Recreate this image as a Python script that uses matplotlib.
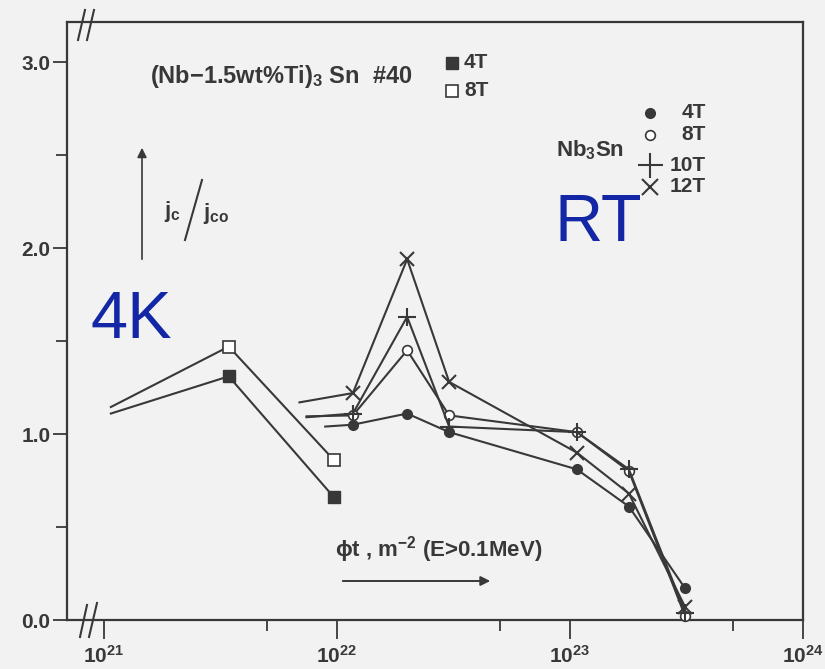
import numpy as np
import matplotlib.pyplot as plt
from matplotlib.lines import Line2D
from matplotlib.ticker import FixedLocator, NullFormatter

plt.rcParams['font.family'] = ['Liberation Sans', 'DejaVu Sans']
plt.rcParams['font.weight'] = 'bold'
plt.rcParams['mathtext.fontset'] = 'custom'
plt.rcParams['mathtext.rm'] = 'Liberation Sans:bold'
plt.rcParams['mathtext.it'] = 'Liberation Sans:bold'
plt.rcParams['mathtext.bf'] = 'Liberation Sans:bold'
plt.rcParams['mathtext.default'] = 'rm'

INK = '#383838'
BG = '#f2f2f2'
BLUE = '#1226a6'
FS = 15

# (Nb-1.5wt%Ti)3Sn #40, 4 K irradiation (first point is line start only)
x_nbti = [1.07e21, 3.43e21, 9.7e21]
nbti_4T = [1.11, 1.31, 0.66]
nbti_8T = [1.145, 1.47, 0.86]

# Nb3Sn, room-temperature irradiation (first point is line start only)
x_rt = [1.17e22, 2.0e22, 3.03e22, 1.07e23, 1.79e23, 3.12e23]
x0_rt = {'4T': 8.9e21, '8T': 7.4e21, '10T': 7.4e21, '12T': 6.9e21}
rt_4T = [1.04, 1.05, 1.11, 1.01, 0.81, 0.61, 0.17]
rt_8T = [1.095, 1.10, 1.45, 1.10, 1.01, 0.80, 0.02]
rt_10T = [1.09, 1.11, 1.63, 1.04, 1.01, 0.81, 0.04]
rt_12T = [1.17, 1.22, 1.94, 1.28, 0.90, 0.68, 0.07]

W, H = 825, 669
fig = plt.figure(figsize=(W / 100, H / 100), dpi=100, facecolor=BG)
ax = fig.add_axes([67 / W, 1 - 620 / H, (803 - 67) / W, (620 - 22) / H])
ax.set_facecolor(BG)


def px(x, y):
    return x / W, 1 - y / H


lw = 1.5
ax.plot(x_nbti, nbti_4T, color=INK, lw=lw, marker='s', ms=8, mfc=INK, mec=INK,
        markevery=[1, 2], zorder=3)
ax.plot(x_nbti, nbti_8T, color=INK, lw=lw, marker='s', ms=8, mfc='white', mec=INK,
        mew=1.2, markevery=[1, 2], zorder=3)

series = [('4T', rt_4T, dict(marker='o', ms=7, mfc=INK, mec=INK)),
          ('8T', rt_8T, dict(marker='o', ms=7, mfc='white', mec=INK, mew=1.2)),
          ('10T', rt_10T, dict(marker='+', ms=13, mec=INK, mew=1.5)),
          ('12T', rt_12T, dict(marker='x', ms=10, mec=INK, mew=1.5))]
for key, vals, mk in series:
    xs = [x0_rt[key]] + x_rt
    ax.plot(xs, vals, color=INK, lw=lw, markevery=list(range(1, len(xs))),
            zorder=4, clip_on=False, **mk)

ax.set_xscale('log')
ax.set_xlim(10 ** (21 - 37 / 233), 1e24)
ax.set_ylim(0, 3.0 + 40 / 186)

ax.xaxis.set_major_locator(FixedLocator([1e21, 1e22, 1e23, 1e24]))
ax.xaxis.set_minor_locator(FixedLocator([5e21, 5e22, 5e23]))
ax.xaxis.set_minor_formatter(NullFormatter())
ax.set_xticklabels([r'10$^{21}$', r'10$^{22}$', r'10$^{23}$', r'10$^{24}$'])
ax.set_yticks([0, 1, 2, 3])
ax.set_yticklabels(['0.0', '1.0', '2.0', '3.0'])
ax.set_yticks([0.5, 1.5, 2.5], minor=True)

ax.tick_params(axis='both', which='major', direction='out', color=INK, width=1.3,
               labelsize=FS, labelcolor=INK)
ax.tick_params(axis='x', which='major', length=14, pad=4)
ax.tick_params(axis='x', which='minor', direction='out', length=8, width=1.3, color=INK)
ax.tick_params(axis='y', which='major', length=10, pad=2)
ax.tick_params(axis='y', which='minor', direction='out', length=8, width=1.3, color=INK)
for s in ax.spines.values():
    s.set_color(INK)
    s.set_linewidth(1.6)

# axis break marks
for (xa, ya, xb, yb) in [(78, 40, 85, 10), (87, 40, 94, 10),
                         (80, 637, 87, 605), (89, 637, 97, 603)]:
    fig.add_artist(Line2D([xa / W, xb / W], [1 - ya / H, 1 - yb / H],
                          color=INK, lw=1.5))

# Nb-Ti label and legend
fig.text(*px(150, 76), '(Nb$-$1.5wt%Ti)$_3$ Sn  #40', fontsize=17, color=INK,
         ha='left', va='center')
ax.plot(*px(452, 63), marker='s', ms=9, mfc=INK, mec=INK, transform=fig.transFigure,
        clip_on=False)
ax.plot(*px(452, 91), marker='s', ms=9, mfc='white', mec=INK, mew=1.2,
        transform=fig.transFigure, clip_on=False)
fig.text(*px(464, 63), '4T', fontsize=FS, color=INK, ha='left', va='center')
fig.text(*px(464, 91), '8T', fontsize=FS, color=INK, ha='left', va='center')

# Nb3Sn label and legend
fig.text(*px(590, 150), 'Nb$_3$Sn', fontsize=16, color=INK, ha='center', va='center')
leg = [(113, '4T', dict(marker='o', ms=7, mfc=INK, mec=INK)),
       (135, '8T', dict(marker='o', ms=7, mfc='white', mec=INK, mew=1.2)),
       (165, '10T', dict(marker='+', ms=18, mec=INK, mew=1.5)),
       (187, '12T', dict(marker='x', ms=12, mec=INK, mew=1.5))]
for yy, lab, mk in leg:
    ax.plot(*px(650, yy), transform=fig.transFigure, clip_on=False, **mk)
    fig.text(*px(706, yy), lab, fontsize=FS, color=INK, ha='right', va='center')

# j_c / j_co label with arrow
ax.annotate('', xy=px(142, 145), xytext=px(142, 262), xycoords='figure fraction',
            textcoords='figure fraction',
            arrowprops=dict(arrowstyle='-|>', color=INK, lw=1.2, mutation_scale=14))
fig.text(*px(164, 211), 'j$_c$', fontsize=16, color=INK, ha='left', va='center')
fig.add_artist(Line2D([185 / W, 202 / W], [1 - 240 / H, 1 - 180 / H], color=INK, lw=1.5))
fig.text(*px(203, 213), 'j$_{co}$', fontsize=16, color=INK, ha='left', va='center')

# flux label with arrow
fig.text(*px(335, 550), r'ϕt , m$^{-2}$ (E>0.1MeV)', fontsize=16, color=INK,
         ha='left', va='center')
ax.annotate('', xy=px(493, 581), xytext=px(340, 581), xycoords='figure fraction',
            textcoords='figure fraction',
            arrowprops=dict(arrowstyle='-|>', color=INK, lw=1.4, mutation_scale=14))

# temperature labels
fig.text(*px(131, 321), '4K', fontsize=48, color=BLUE, fontweight='normal',
         ha='center', va='center')
fig.text(*px(598, 224), 'RT', fontsize=48, color=BLUE, fontweight='normal',
         ha='center', va='center')

fig.savefig('out.png', dpi=100, facecolor=BG)
